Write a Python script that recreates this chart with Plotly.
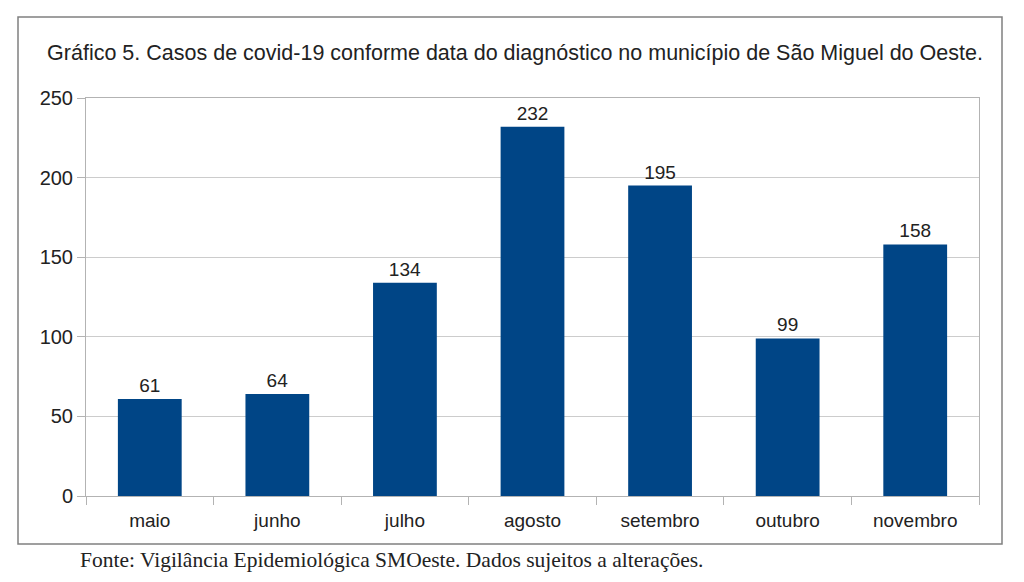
import plotly.graph_objects as go

months = ["maio", "junho", "julho", "agosto", "setembro", "outubro", "novembro"]
cases = [61, 64, 134, 232, 195, 99, 158]
y_ticks = [0, 50, 100, 150, 200, 250]

title_text = "Gráfico 5. Casos de covid-19 conforme data do diagnóstico no município de São Miguel do Oeste."
source_text = "Fonte: Vigilância Epidemiológica SMOeste. Dados sujeitos a alterações."

fig = go.Figure(go.Bar(
    x=months, y=cases,
    marker=dict(color="#004586", line=dict(width=0)),
    text=cases, textposition="outside", cliponaxis=False,
    textfont=dict(family="Liberation Sans, Arial, sans-serif", size=19, color="#222222"),
))

fig.update_layout(
    width=1024, height=582,
    margin=dict(l=86, r=45, t=98, b=86),
    paper_bgcolor="white", plot_bgcolor="white",
    bargap=0.5, showlegend=False,
    font=dict(family="Liberation Sans, Arial, sans-serif", color="#333333"),
    title=dict(text=title_text, x=515/1024, xanchor="center", xref="container",
               y=1-52/582, yanchor="middle", yref="container",
               font=dict(size=21.5, color="#222222")),
    xaxis=dict(type="category", tickson="boundaries", ticks="outside", ticklen=8,
               tickcolor="#b3b3b3", showline=True, linecolor="#b3b3b3", mirror=True,
               ticklabelstandoff=7,
               tickfont=dict(size=19, color="#222222"), showgrid=False),
    yaxis=dict(range=[0, 250], tickvals=y_ticks, ticks="outside", ticklen=8,
               tickcolor="#b3b3b3", showline=True, linecolor="#b3b3b3", mirror=True,
               gridcolor="#cccccc", gridwidth=1, zeroline=False,
               tickfont=dict(size=20, color="#222222")),
    shapes=[dict(type="rect", xref="paper", yref="paper",
                 x0=(18-86)/893, x1=(1002-86)/893, y0=(496-544)/398, y1=(496-17)/398,
                 line=dict(color="#808080", width=1.5), fillcolor="rgba(0,0,0,0)", layer="below")],
    annotations=[dict(text=source_text, xref="paper", yref="paper",
                      x=(78-86)/893, y=(496-560)/398, xanchor="left", yanchor="middle",
                      showarrow=False,
                      font=dict(family="Liberation Serif, Times New Roman, serif", size=21.5, color="#222222"))],
)

fig.write_html("out.html", config={"displayModeBar": False},
               post_script="document.body.style.margin='0';")
